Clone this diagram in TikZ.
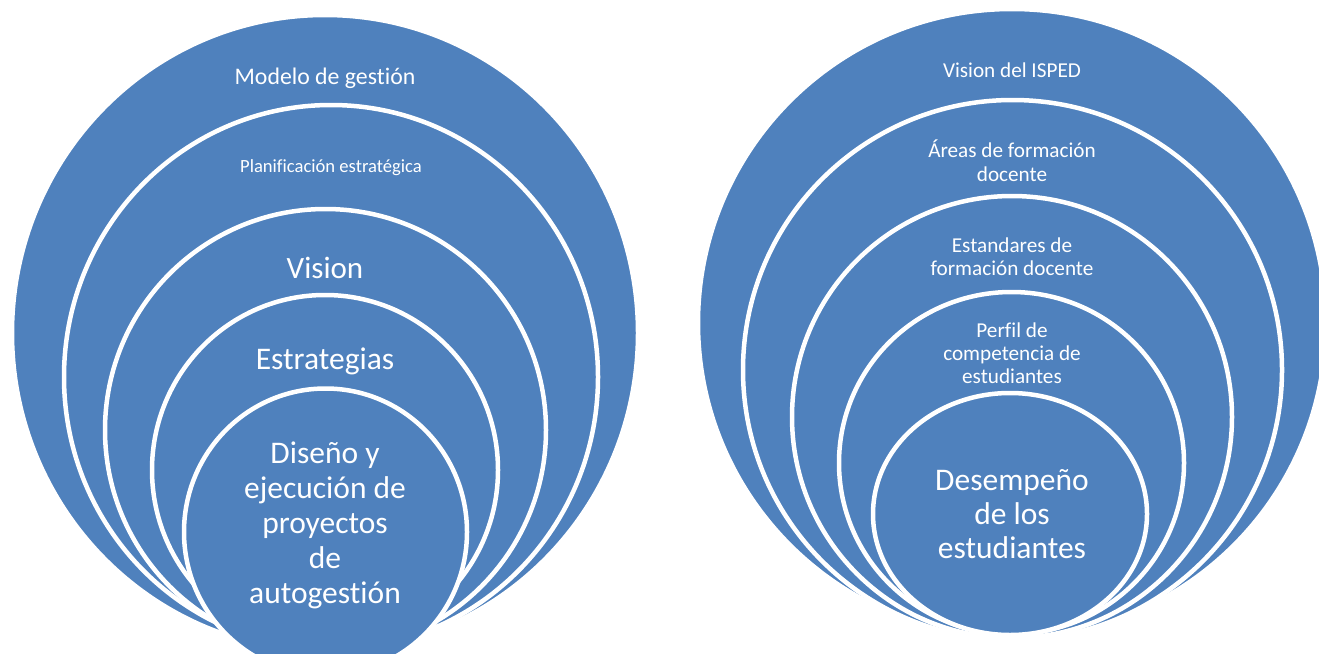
\documentclass[tikz,border=0pt]{standalone}
\usepackage{fontspec}
\setmainfont{Carlito}[Ligatures=NoCommon]
\definecolor{ringblue}{HTML}{4F81BD}
\begin{document}
\begin{tikzpicture}[x=1pt,y=-1pt,
  ring/.style={fill=ringblue,draw=white,line width=4.5pt},
  lbl/.style={text=white,anchor=base,inner sep=0pt},
  bigtxt/.style={lbl,font=\fontsize{31.5}{35}\selectfont},
  midtxt/.style={lbl,font=\fontsize{21.2}{24}\selectfont}]
\path[use as bounding box] (0,0) rectangle (1319,653);
\clip (0,0) rectangle (1319,653);
% left set
\path[ring] (325,333) ellipse [x radius=313pt, y radius=318pt];
\path[ring] (331,377) ellipse [x radius=267pt, y radius=272pt];
\path[ring] (325.5,430) ellipse [x radius=220.5pt, y radius=221pt];
\path[ring] (325,470) ellipse [x radius=173pt, y radius=175pt];
\path[ring] (325.5,532) ellipse [x radius=141.5pt, y radius=143.5pt];
% right set
\path[ring] (1012,323) ellipse [x radius=314pt, y radius=314pt];
\path[ring] (1012.5,370) ellipse [x radius=269.5pt, y radius=270pt];
\path[ring] (1012,417) ellipse [x radius=220pt, y radius=221pt];
\path[ring] (1011.5,463) ellipse [x radius=172.5pt, y radius=171pt];
\path[ring] (1010,514) ellipse [x radius=137pt, y radius=121pt];
% left labels
\node[lbl,font=\fontsize{23.8}{28}\selectfont] (mg) at (325,84) {Modelo de gestión};
\node[lbl,font=\fontsize{18.6}{22}\selectfont] (pe) at (331,172) {Planificación estratégica};
\node[lbl,font=\fontsize{31}{35}\selectfont] (vi) at (325,278) {Vision};
\node[bigtxt] (es) at (325,369) {Estrategias};
\node[bigtxt] (d1) at (325,463) {Diseño y};
\node[bigtxt] (d2) at (325,498) {ejecución de};
\node[bigtxt] (d3) at (325,533) {proyectos};
\node[bigtxt] (d4) at (325,568) {de};
\node[bigtxt] (d5) at (325,603) {autogestión};
% right labels
\node[midtxt] (vd) at (1012,77) {Vision del ISPED};
\node[midtxt] (a1) at (1012,157) {Áreas de formación};
\node[midtxt] (a2) at (1012,181) {docente};
\node[midtxt] (s1) at (1012,252) {Estandares de};
\node[midtxt] (s2) at (1012,275) {formación docente};
\node[midtxt] (p1) at (1012,337) {Perfil de};
\node[midtxt] (p2) at (1012,360) {competencia de};
\node[midtxt] (p3) at (1012,383) {estudiantes};
\node[bigtxt] (e1) at (1012,490) {Desempeño};
\node[bigtxt] (e2) at (1012,524) {de los};
\node[bigtxt] (e3) at (1012,558) {estudiantes};
\end{tikzpicture}
\end{document}
